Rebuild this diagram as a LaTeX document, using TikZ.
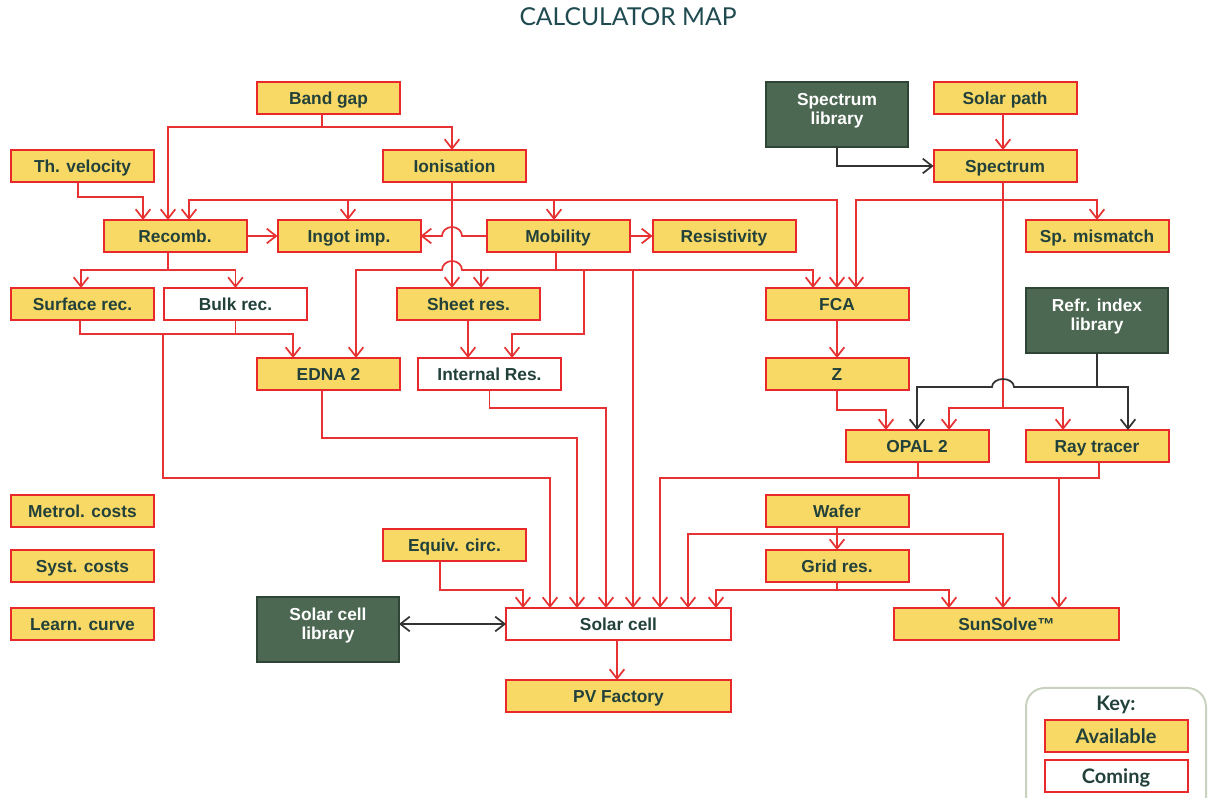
\documentclass[tikz,border=0pt]{standalone}
\usepackage{fontspec}
\setmainfont{Liberation Sans}
\newfontfamily\titlefont{Lato}
\newfontfamily\keyfont{Lato}
\usetikzlibrary{arrows.meta,calc}
\definecolor{boxred}{HTML}{E8282B}
\definecolor{linered}{HTML}{E63232}
\definecolor{boxyellow}{HTML}{F8D966}
\definecolor{txt}{HTML}{23413B}
\definecolor{darkgreen}{HTML}{4C6752}
\definecolor{darkborder}{HTML}{2E4536}
\definecolor{linegray}{HTML}{333333}
\definecolor{keyborder}{HTML}{C8D2BE}
\definecolor{titlecol}{HTML}{1E4A50}
\begin{document}
\begin{tikzpicture}[x=0.75pt,y=-0.75pt,
  box/.style={draw=boxred, line width=1.5pt, fill=boxyellow, minimum width=107.25pt, minimum height=24pt,
    inner sep=0pt, outer sep=0pt, text=txt, font=\fontsize{13}{15}\selectfont\bfseries,
    text height=9.4pt, text depth=0pt},
  comebox/.style={box, fill=white},
  widebox/.style={minimum width=168.75pt},
  darkbox/.style={draw=darkborder, fill=darkgreen, line width=1.2pt, minimum width=106.5pt, minimum height=48.75pt,
    inner sep=0pt, outer sep=0pt},
  darktext/.style={text=white, font=\fontsize{13}{14}\selectfont\bfseries, align=center},
  wire/.style={draw=linered, line width=1.3pt},
  tipstyle/.style={-{Straight Barb[length=7pt,width=11pt]}},
  arr/.style={wire, tipstyle},
  garr/.style={draw=linegray, line width=1.3pt, tipstyle},
  keytext/.style={text=txt, font=\keyfont\fontsize{15}{17}\selectfont\bfseries, text height=10.8pt, text depth=0pt}
]
\useasboundingbox (0,0) rectangle (1208,798);

% title
\node[text=titlecol, font=\titlefont\fontsize{18.5}{20}\selectfont] (title) at (628,17) {CALCULATOR MAP};

% nodes
\node[box] (bandgap) at (328.5,98) {Band gap};
\node[box] (thvel) at (82.5,166) {Th. velocity};
\node[box] (ionisation) at (454.5,166) {Ionisation};
\node[darkbox, label={[darktext,yshift=3pt]center:Spectrum\\library}] (speclib) at (837,114.5) {};
\node[box] (solarpath) at (1005,98) {Solar path};
\node[box] (spectrum) at (1005,166) {Spectrum};
\node[box] (recomb) at (175,236) {Recomb.};
\node[box] (ingot) at (349,236) {Ingot imp.};
\node[box] (mobility) at (558,236) {Mobility};
\node[box] (resistivity) at (724,236) {Resistivity};
\node[box] (spmismatch) at (1097,236) {Sp. mismatch};
\node[box] (surfrec) at (82.5,304) {Surface rec.};
\node[comebox] (bulkrec) at (235.5,304) {Bulk rec.};
\node[box] (sheetres) at (468.5,304) {Sheet res.};
\node[box] (fca) at (837,304) {FCA};
\node[darkbox, label={[darktext,yshift=3pt]center:Refr. index\\library}] (refr) at (1097,320.5) {};
\node[box] (edna) at (328.5,374) {EDNA 2};
\node[comebox] (intres) at (489.5,374) {Internal Res.};
\node[box] (z) at (837,374) {Z};
\node[box] (opal) at (917,446) {OPAL 2};
\node[box] (raytracer) at (1097,446) {Ray tracer};
\node[box] (metrol) at (82.5,511) {Metrol. costs};
\node[box] (wafer) at (837,511) {Wafer};
\node[box] (syst) at (82.5,566) {Syst. costs};
\node[box] (equiv) at (454.5,545) {Equiv. circ.};
\node[box] (gridres) at (837,566) {Grid res.};
\node[box] (learn) at (82.5,624) {Learn. curve};
\node[darkbox, label={[darktext,yshift=3pt]center:Solar cell\\library}] (sclib) at (328,629.5) {};
\node[comebox, widebox] (solarcell) at (618.5,624) {Solar cell};
\node[box, widebox] (sunsolve) at (1006.5,624) {SunSolve™};
\node[box, widebox] (pvfactory) at (618.5,696) {PV Factory};

% key
\draw[draw=keyborder, line width=1.5pt, rounded corners=14pt] (1026,688) rectangle (1206,830);
\node[keytext] (keylabel) at (1116,703) {Key:};
\node[box, keytext] (keyavail) at (1116,736) {Available};
\node[comebox, keytext] (keycoming) at (1116,776) {Coming};

% junction coordinates
\coordinate (bg) at (322,127);
\coordinate (ion) at (452,200);
\coordinate (mob) at (556,270);
\coordinate (rec) at (168,270);
\coordinate (sb) at (163,334);
\coordinate (or) at (918,478);
\coordinate (wf) at (837,534);
\coordinate (gr) at (837,590);
\coordinate (sp) at (1003,200);
\coordinate (sp2) at (1003,408);
\coordinate (ri) at (1097,387);

% Band gap
\draw[wire] ($(bandgap.south)+(-6.5,0)$) -- (bg);
\draw[arr] (bg) -| ($(recomb.north)+(-7,0)$);
\draw[arr] (bg) -| ($(ionisation.north)+(-2.5,0)$);
% Th. velocity
\draw[arr] ($(thvel.south)+(-4.5,0)$) -- ++(0,15) -| ($(recomb.north)+(-32,0)$);
% Ionisation
\draw[arr] (ionisation.south -| ion) -- (sheetres.north -| ion);
\draw[arr] (ion) -| ($(recomb.north)+(14,0)$);
\draw[arr] (ion) -| ($(ingot.north)+(-1,0)$);
\draw[arr] (ion) -| ($(mobility.north)+(-4,0)$);
\draw[arr] (ion) -| (fca.north);
% row connections
\draw[arr] (recomb.east) -- (ingot.west);
\draw[arr] (mobility.east) -- (resistivity.west);
\draw[arr] (mobility.west) -- (462,236) arc[start angle=0, end angle=-180, x radius=10, y radius=9] -- (ingot.east);
% Mobility bottom
\draw[wire] ($(mobility.south)+(-2,0)$) -- (mob);
\draw[arr] (mob) -- (462,270) arc[start angle=0, end angle=-180, x radius=10, y radius=9] -| ($(edna.north)+(27.5,0)$);
\draw[arr] (mob) -| ($(sheetres.north)+(12.5,0)$);
\draw[arr] (mob) -| ($(fca.north)+(-24,0)$);
\draw[arr] (mob) -| (584,334) -| ($(intres.north)+(22.5,0)$);
\draw[arr] (mob) -| ($(solarcell.north)+(14.5,0)$);
% Recomb
\draw[wire] ($(recomb.south)+(-7,0)$) -- (rec);
\draw[arr] (rec) -| ($(surfrec.north)+(-1.5,0)$);
\draw[arr] (rec) -| (bulkrec.north);
% Surface / Bulk rec
\draw[wire] ($(surfrec.south)+(-2.5,0)$) |- (sb);
\draw[wire] (bulkrec.south) |- (sb);
\draw[arr] (sb) -| ($(edna.north)+(-35.5,0)$);
\draw[arr] (sb) -- (163,478) -| ($(solarcell.north)+(-68.5,0)$);
% Sheet res
\draw[arr] ($(sheetres.south)+(-0.5,0)$) -- ($(intres.north)+(-21.5,0)$);
% EDNA 2
\draw[arr] ($(edna.south)+(-6.5,0)$) -- ++(0,48) -| ($(solarcell.north)+(-41.5,0)$);
% Internal Res
\draw[arr] (intres.south) -- ++(0,18) -| ($(solarcell.north)+(-12.5,0)$);
% Equiv circ
\draw[arr] ($(equiv.south)+(-14.5,0)$) -- ++(0,29) -| ($(solarcell.north)+(-95.5,0)$);
% OPAL 2 / Ray tracer
\draw[wire] ($(opal.south)+(1,0)$) -- (or);
\draw[wire] ($(raytracer.south)+(2,0)$) |- (or);
\draw[arr] (or) -| ($(solarcell.north)+(41.5,0)$);
\draw[arr] (or) -| ($(sunsolve.north)+(52.5,0)$);
% Wafer
\draw[arr] (wafer.south) -- (gridres.north);
\draw[arr] (wf) -| ($(solarcell.north)+(69.5,0)$);
\draw[arr] (wf) -| ($(sunsolve.north)+(-3.5,0)$);
% Grid res
\draw[wire] (gridres.south) -- (gr);
\draw[arr] (gr) -| ($(solarcell.north)+(97.5,0)$);
\draw[arr] (gr) -| ($(sunsolve.north)+(-57.5,0)$);
% Solar cell
\draw[arr] ($(solarcell.south)+(-1.5,0)$) -- ($(pvfactory.north)+(-1.5,0)$);
\draw[draw=linegray, line width=1.3pt, {Straight Barb[length=7pt,width=11pt]}-{Straight Barb[length=7pt,width=11pt]}] (sclib.east |- solarcell.west) -- (solarcell.west);
% Spectrum
\draw[garr] (speclib.south) |- (spectrum.west);
\draw[arr] ($(solarpath.south)+(-2,0)$) -- ($(spectrum.north)+(-2,0)$);
\draw[wire] ($(spectrum.south)+(-2,0)$) -- (sp2);
\draw[arr] (sp) -| ($(fca.north)+(19,0)$);
\draw[arr] (sp) -| (spmismatch.north);
\draw[arr] (sp2) -| ($(opal.north)+(32,0)$);
\draw[arr] (sp2) -| ($(raytracer.north)+(-34,0)$);
% Refr. index library
\draw[garr] (refr.south) -- (ri) -| ($(raytracer.north)+(31,0)$);
\draw[garr] (ri) -- (1014,387) arc[start angle=0, end angle=-180, x radius=11, y radius=8] -| (opal.north);
% FCA, Z
\draw[arr] (fca.south) -- (z.north);
\draw[arr] (z.south) -- ++(0,20) -| ($(opal.north)+(-31,0)$);
\end{tikzpicture}
\end{document}
